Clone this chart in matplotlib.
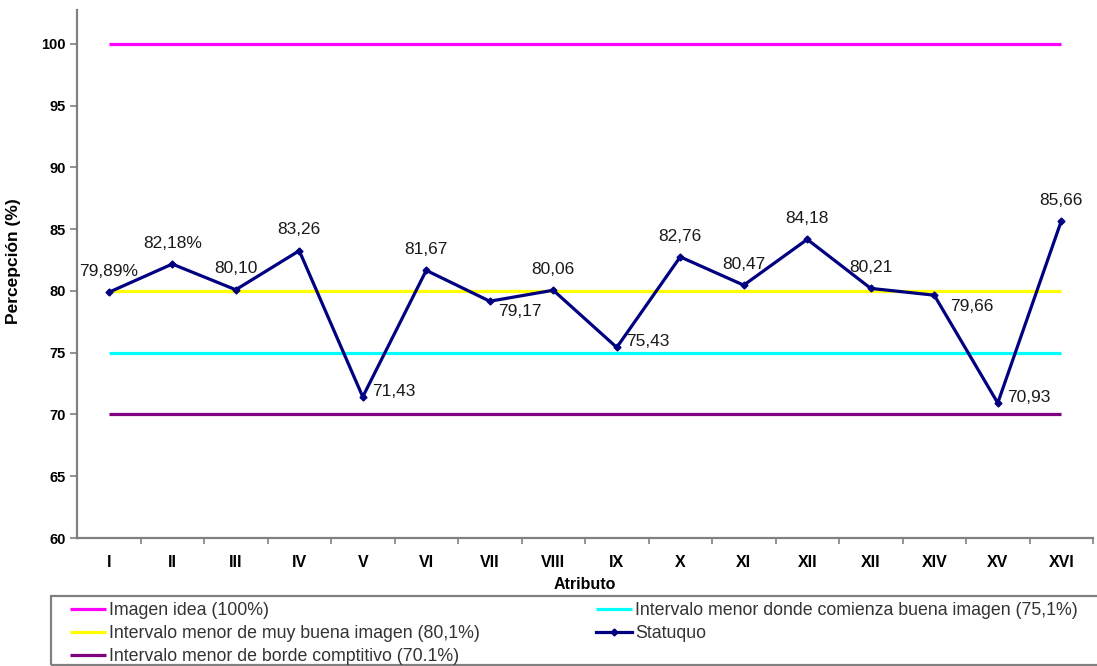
import matplotlib
matplotlib.use("Agg")
import matplotlib.pyplot as plt
from matplotlib.patches import Rectangle

plt.rcParams['font.family'] = ['Liberation Sans', 'DejaVu Sans']

# Attributes on the horizontal axis
atributos = ["I", "II", "III", "IV", "V", "VI", "VII", "VIII",
             "IX", "X", "XI", "XII", "XII", "XIV", "XV", "XVI"]

# Perceived image per attribute (%)
statuquo = [79.89, 82.18, 80.10, 83.26, 71.43, 81.67, 79.17, 80.06,
            75.43, 82.76, 80.47, 84.18, 80.21, 79.66, 70.93, 85.66]
etiquetas = ["79,89%", "82,18%", "80,10", "83,26", "71,43", "81,67", "79,17", "80,06",
             "75,43", "82,76", "80,47", "84,18", "80,21", "79,66", "70,93", "85,66"]
posicion = ["above", "above", "above", "above", "right", "above", "below", "above",
            "right", "above", "above", "above", "above", "below2", "right", "above"]

# Reference levels
nivel_ideal = 100
nivel_muy_buena = 80
nivel_buena = 75
nivel_borde = 70

nombres = ["Imagen idea (100%)",
           "Intervalo menor de muy buena imagen (80,1%)",
           "Intervalo menor de borde comptitivo (70.1%)",
           "Intervalo menor donde comienza buena imagen (75,1%)",
           "Statuquo"]

W, H = 1097, 666
fig = plt.figure(figsize=(W / 100, H / 100), dpi=100)
ax = fig.add_axes([77 / W, 1 - 538 / H, (1093 - 77) / W, (538 - 10) / H])

x = list(range(len(atributos)))
x0, x1 = x[0], x[-1]

l_ideal, = ax.plot([x0, x1], [nivel_ideal] * 2, color="#FF00FF", lw=2.3, solid_capstyle="butt")
l_muy, = ax.plot([x0, x1], [nivel_muy_buena] * 2, color="#FFFF00", lw=2.3, solid_capstyle="butt")
l_buena, = ax.plot([x0, x1], [nivel_buena] * 2, color="#00FFFF", lw=2.3, solid_capstyle="butt")
l_borde, = ax.plot([x0, x1], [nivel_borde] * 2, color="#800080", lw=2.3, solid_capstyle="butt")
l_stat, = ax.plot(x, statuquo, color="#000080", lw=2.3, marker="D", markersize=3.5,
                  markerfacecolor="#000080", markeredgecolor="#000080", zorder=5)

offsets = {"above": ((0, 15), "center", "center"),
           "right": ((7, 4), "left", "center"),
           "below": ((6, -7.5), "left", "center"),
           "below2": ((11.5, -8), "left", "center")}
for xi, yi, txt, pos in zip(x, statuquo, etiquetas, posicion):
    off, ha, va = offsets[pos]
    ax.annotate(txt, (xi, yi), xytext=off, textcoords="offset points",
                ha=ha, va=va, fontsize=12.5, color="#1a1a1a", zorder=6)

ax.set_xlim(-0.5, len(atributos) - 0.5)
ax.set_ylim(60, 102.75)
ax.set_yticks(range(60, 101, 5))
ax.set_xticks(x)
ax.set_xticklabels(atributos)
ax.set_xticks([i + 0.5 for i in x], minor=True)
ax.tick_params(axis="x", which="major", length=0, pad=12, labelsize=11.5)
ax.tick_params(axis="x", which="minor", length=4, width=1.2, color="#808080", direction="out")
ax.tick_params(axis="y", length=5, width=1.2, color="#808080", pad=3, labelsize=10.5)
for lab in ax.get_xticklabels() + ax.get_yticklabels():
    lab.set_fontweight("bold")

for side in ("top", "right"):
    ax.spines[side].set_visible(False)
for side in ("left", "bottom"):
    ax.spines[side].set_color("#808080")
    ax.spines[side].set_linewidth(1.6)

ax.set_xlabel("Atributo", fontsize=11.5, fontweight="bold", labelpad=5)
ax.set_ylabel("Percepción (%)", fontsize=12.5, fontweight="bold")
ax.yaxis.set_label_coords(-56 / (1093 - 77), (538 - 261) / (538 - 10))

# Legend frame across the bottom
fig.patches.append(Rectangle((51 / W, 1 - 665 / H), 1.2, (665 - 596) / H,
                             transform=fig.transFigure, fill=False,
                             edgecolor="#808080", lw=1.6))

leg_kw = dict(loc="upper left", frameon=False, fontsize=12.8, borderpad=0,
              borderaxespad=0, handlelength=2.0, handletextpad=0.2,
              labelspacing=0.33, numpoints=1, labelcolor="#333333")
leg1 = fig.legend([l_ideal, l_muy, l_borde], nombres[:3],
                  bbox_to_anchor=(70 / W, 1 - 602 / H), **leg_kw)
leg2 = fig.legend([l_buena, l_stat], nombres[3:],
                  bbox_to_anchor=(596 / W, 1 - 602 / H), **leg_kw)

fig.savefig("out.png", dpi=100)
